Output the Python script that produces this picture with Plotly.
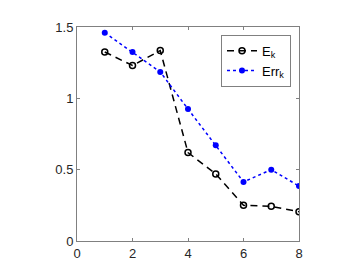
import plotly.graph_objects as go

k = [1, 2, 3, 4, 5, 6, 7, 8]
E_k = [1.325, 1.23, 1.335, 0.62, 0.47, 0.25, 0.243, 0.205]
Err_k = [1.46, 1.325, 1.185, 0.925, 0.672, 0.414, 0.50, 0.385]
x_ticks = [0, 2, 4, 6, 8]
y_ticks = [0, 0.5, 1, 1.5]
y_tick_labels = ["0", "0.5", "1", "1.5"]

fig = go.Figure()
fig.add_trace(go.Scatter(
    x=k, y=E_k, name="E<sub>k</sub>", mode="lines+markers",
    line=dict(color="black", width=1.5, dash="7px,5px"),
    marker=dict(symbol="circle-open", size=6, color="black", line=dict(width=1.5)),
))
fig.add_trace(go.Scatter(
    x=k, y=Err_k, name="Err<sub>k</sub>", mode="lines+markers",
    line=dict(color="#0000ff", width=1.5, dash="dot"),
    marker=dict(symbol="circle", size=6, color="#0000ff"),
))

axis_common = dict(
    showgrid=False, zeroline=False, showline=True, linecolor="#808080", linewidth=1,
    mirror="ticks", ticks="inside", ticklen=3, tickcolor="#808080",
    tickfont=dict(family="Liberation Sans, Arial, sans-serif", size=13, color="#262626"),
)
fig.update_xaxes(range=[0, 8], tickvals=x_ticks, **axis_common)
fig.update_yaxes(range=[0, 1.5], tickvals=y_ticks, ticktext=y_tick_labels, **axis_common)

fig.update_layout(
    width=356, height=265,
    margin=dict(l=69, r=65, t=13, b=30),
    plot_bgcolor="white", paper_bgcolor="white",
    font=dict(family="Liberation Sans, Arial, sans-serif", size=13, color="black"),
    legend=dict(
        x=0.964, y=0.964, xanchor="right", yanchor="top",
        bgcolor="white", bordercolor="#808080", borderwidth=1,
        font=dict(size=13), itemwidth=30,
    ),
)

fig.write_html("out.html")
